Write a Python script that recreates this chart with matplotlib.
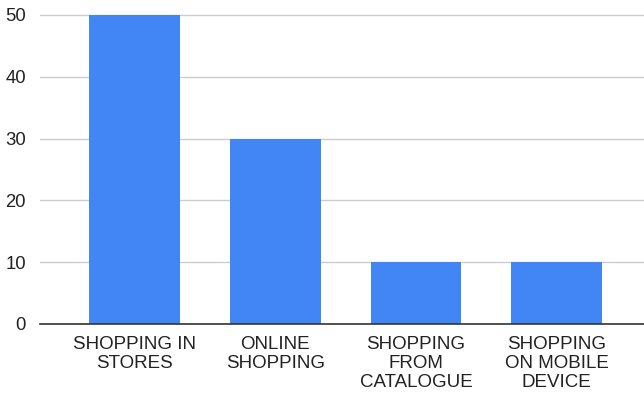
import matplotlib.pyplot as plt

categories = ["SHOPPING IN\nSTORES", "ONLINE\nSHOPPING", "SHOPPING\nFROM\nCATALOGUE",
              "SHOPPING\nON MOBILE\nDEVICE"]
values = [50, 30, 10, 10]
yticks = [0, 10, 20, 30, 40, 50]

plt.rcParams['font.family'] = ['Liberation Sans', 'DejaVu Sans']

fig = plt.figure(figsize=(6.44, 3.97), dpi=100)
# axes placed in pixels: left 40, right 644, y=0 at 324, y=50.3 at ~13
ax = fig.add_axes([40 / 644, (397 - 324) / 397, 604 / 644, (324 - 13.1) / 397])

x = range(len(categories))
ax.bar(x, values, width=0.645, color="#4285f4", zorder=3)

ax.set_xlim(-0.67, 3.62)
ax.set_ylim(0, 50.3)
ax.set_yticks(yticks)
ax.set_xticks(list(x))
ax.set_xticklabels(categories, fontsize=13.5, color="#222222", linespacing=1.15)
ax.tick_params(axis='y', length=0, pad=10, labelsize=13.3, labelcolor="#222222")
ax.tick_params(axis='x', length=0, pad=8.8)

ax.grid(axis='y', color="#cccccc", linewidth=1, zorder=0)
for side in ["top", "right", "left"]:
    ax.spines[side].set_visible(False)
ax.spines["bottom"].set_color("#333333")
ax.spines["bottom"].set_linewidth(1.2)
ax.spines["bottom"].set_zorder(4)

fig.savefig("out.png", dpi=100)
